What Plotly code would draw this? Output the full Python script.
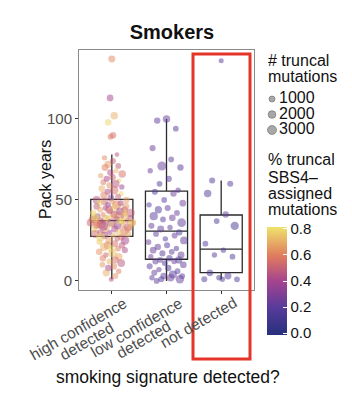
import math
import plotly.graph_objects as go

# ---------------- data ----------------
categories = ["high confidence<br>detected", "low confidence<br>detected", "not detected"]

high_pack = [137, 113, 102, 98, 90, 89, 78, 76, 74, 72,
             71, 70, 68, 67, 66, 65, 64, 63, 62, 61,
             60, 59, 58, 57, 56, 55, 54, 53, 52, 51,
             50, 50, 49, 49, 48, 48, 47, 47, 46, 46,
             45, 45, 44, 44, 43, 43, 42, 42, 41, 41,
             40, 40, 40, 39, 39, 38, 38, 38, 37, 37,
             37, 36, 36, 36, 35, 35, 35, 34, 34, 33,
             33, 32, 32, 31, 31, 30, 30, 30, 29, 29,
             28, 28, 27, 27, 26, 25, 25, 24, 23, 22,
             22, 21, 20, 20, 19, 18, 17, 16, 15, 14,
             13, 12, 11, 10, 9, 8, 6, 5, 3, 1,
             36, 38, 40, 34, 42, 35, 37, 44, 33, 39]
high_pct = [0.62, 0.40, 0.70, 0.78, 0.55, 0.58, 0.45, 0.62, 0.50, 0.66,
            0.48, 0.60, 0.72, 0.44, 0.55, 0.68, 0.52, 0.40, 0.75, 0.58,
            0.46, 0.63, 0.38, 0.70, 0.55, 0.42, 0.78, 0.60, 0.50, 0.35,
            0.66, 0.45, 0.72, 0.52, 0.40, 0.80, 0.58, 0.36, 0.64, 0.48,
            0.75, 0.42, 0.56, 0.68, 0.38, 0.62, 0.50, 0.77, 0.44, 0.60,
            0.70, 0.35, 0.54, 0.79, 0.46, 0.64, 0.40, 0.72, 0.58, 0.48,
            0.80, 0.38, 0.62, 0.52, 0.74, 0.44, 0.66, 0.56, 0.36, 0.70,
            0.50, 0.78, 0.42, 0.64, 0.58, 0.46, 0.74, 0.38, 0.68, 0.54,
            0.72, 0.44, 0.60, 0.78, 0.50, 0.66, 0.40, 0.76, 0.56, 0.62,
            0.48, 0.70, 0.58, 0.80, 0.42, 0.64, 0.74, 0.52, 0.68, 0.60,
            0.56, 0.72, 0.46, 0.66, 0.62, 0.40, 0.58, 0.70, 0.64, 0.45,
            0.76, 0.52, 0.68, 0.44, 0.72, 0.60, 0.80, 0.50, 0.66, 0.78]
high_n = [2200, 2000, 2600, 2000, 1800, 1500, 800, 1200, 1600, 2400,
          1400, 2200, 1000, 1800, 2600, 1200, 2000, 1600, 900, 1400,
          2800, 1600, 1200, 2000, 3400, 1800, 1000, 2400, 1500, 2200,
          1800, 3000, 1200, 2600, 1600, 2000, 4000, 1400, 2200, 1800,
          3600, 1200, 2000, 1600, 2800, 1400, 3200, 1800, 2400, 1000,
          2600, 1500, 4200, 2000, 1300, 2800, 1800, 3600, 1200, 2200,
          1600, 3000, 1400, 2400, 1800, 4400, 1200, 2000, 2600, 1500,
          3200, 1800, 2200, 1400, 3800, 1600, 2400, 1200, 2000, 3000,
          1400, 2600, 1800, 4000, 1200, 2200, 3400, 1600, 2000, 2800,
          1800, 3200, 1400, 2400, 1600, 2000, 3600, 1200, 2600, 1800,
          2200, 1600, 2800, 1400, 2000, 1800, 1200, 2400, 1600, 1000,
          3000, 2400, 1800, 4600, 2200, 3400, 2000, 2800, 1600, 3800]

low_pack = [100, 99, 94, 82, 75, 71, 70, 68, 63, 60,
            56, 55, 54, 50, 48, 47, 45, 44, 42, 40,
            39, 38, 36, 34, 33, 32, 30, 29, 28, 26,
            25, 24, 22, 21, 20, 19, 18, 17, 16, 15,
            14, 13, 13, 12, 12, 11, 10, 9, 8, 7,
            6, 5, 4, 3, 3, 2, 2, 1, 1, 0]
low_pct = [0.22, 0.20, 0.18, 0.24, 0.20, 0.22, 0.18, 0.25, 0.20, 0.16,
           0.22, 0.18, 0.24, 0.20, 0.26, 0.19, 0.22, 0.17, 0.23, 0.20,
           0.25, 0.18, 0.21, 0.24, 0.19, 0.22, 0.16, 0.20, 0.23, 0.18,
           0.21, 0.26, 0.19, 0.22, 0.17, 0.24, 0.20, 0.18, 0.22, 0.25,
           0.19, 0.23, 0.17, 0.21, 0.24, 0.18, 0.22, 0.20, 0.16, 0.23,
           0.20, 0.24, 0.18, 0.22, 0.19, 0.21, 0.25, 0.17, 0.23, 0.20]
low_n = [2600, 1800, 1400, 1600, 1400, 4000, 1800, 1200, 1600, 1400,
         1200, 1600, 1800, 1400, 2000, 1200, 1600, 2400, 1400, 3200,
         2000, 1400, 3600, 1600, 1200, 2200, 1800, 1400, 1600, 1200,
         2800, 1400, 1600, 1800, 1200, 2000, 1400, 1600, 2200, 1200,
         1800, 1400, 2400, 1600, 1200, 1400, 2000, 1600, 1800, 1200,
         1400, 1600, 3000, 1800, 1400, 1200, 2600, 1600, 3400, 1400]

nd_pack = [136, 62, 60, 54, 41, 37, 34, 23, 19, 16, 15, 5, 3, 2, 1, 1, 1]
nd_pct = [0.18, 0.16, 0.20, 0.17, 0.22, 0.15, 0.14, 0.18, 0.16, 0.20, 0.17,
          0.15, 0.19, 0.13, 0.17, 0.18, 0.16]
nd_n = [1000, 1600, 1600, 2600, 1800, 1400, 3400, 1400, 1200, 1200, 1400,
        2000, 2200, 1200, 1400, 1600, 1200]

box_q1 = [27.5, 13.4, 5.1]
box_median = [37.2, 30.7, 19.6]
box_q3 = [50.4, 55.5, 40.7]
box_lower = [1, 0, 1]
box_upper = [78, 100, 62]

legend_n = [1000, 2000, 3000]
legend_labels = ["1000", "2000", "3000"]

# ---------------- helpers ----------------
W, H = 352, 420
FONT = "Liberation Sans, Arial, Helvetica, sans-serif"
X0, X1, Y0, Y1 = 79, 254, 50, 290   # panel box in pixels
XR = [0.4, 3.6]
TICK_FS = 15.5

# Arial advance widths (per 1000 em) used to centre rotated label lines
CHAR_W = {"a": 556, "c": 500, "d": 556, "e": 556, "f": 278, "g": 556,
          "h": 556, "i": 222, "l": 222, "n": 556, "o": 556, "t": 278,
          "w": 722, " ": 278}


def text_len(s, fs):
    return sum(CHAR_W.get(ch, 556) for ch in s) / 1000 * fs


def px_x(p):
    return p / W


def px_y(p):
    return 1 - p / H


def dot_size(n):
    return 0.129 * math.sqrt(n) + 0.92


def vdc(i, base=2):
    v, denom = 0.0, 1.0
    while i:
        denom *= base
        i, r = divmod(i, base)
        v += r / denom
    return v


def jitter(vals, center, wmax, density=True):
    out = []
    if density:
        dens = [sum(1 for v in vals if abs(v - y) <= 6) for y in vals]
        md = max(dens)
    for i, y in enumerate(vals):
        w = wmax * math.sqrt(dens[i] / md) if density else wmax
        w = max(w, 0.06)
        out.append(center + w * (2 * vdc(i + 1) - 1))
    return out


colorscale = [[0.0, "#27307c"], [0.25, "#563b9b"], [0.5, "#a6448e"],
              [0.73, "#e07a5f"], [1.0, "#eee36b"]]

fig = go.Figure()

positions = [1, 2, 3]
fig.add_trace(go.Box(
    x=positions, q1=box_q1, median=box_median, q3=box_q3,
    lowerfence=box_lower, upperfence=box_upper,
    boxpoints=False, width=0.77, whiskerwidth=0,
    fillcolor="rgba(0,0,0,0)", line=dict(color="#2b2b2b", width=1.3),
    showlegend=False, hoverinfo="skip", xaxis="x", yaxis="y"))

groups = [(high_pack, high_pct, high_n, True, 0.40),
          (low_pack, low_pct, low_n, False, 0.34),
          (nd_pack, nd_pct, nd_n, False, 0.33)]
for k, (pk, pc, nn, dens, wmax) in enumerate(groups):
    fig.add_trace(go.Scatter(
        x=jitter(pk, positions[k], wmax, dens), y=pk, mode="markers",
        marker=dict(color=pc, coloraxis="coloraxis",
                    size=[dot_size(v) for v in nn], opacity=0.5,
                    line=dict(width=0)),
        showlegend=False, xaxis="x", yaxis="y", cliponaxis=False))

# size legend drawn on a helper axis in pixel units
leg_y = [99, 114.5, 130]
fig.add_trace(go.Scatter(
    x=[272] * len(legend_n), y=leg_y, mode="markers",
    marker=dict(size=[dot_size(v) + 1 for v in legend_n],
                color="rgba(90,90,90,0.75)",
                line=dict(color="rgba(50,50,50,0.8)", width=0.8)),
    showlegend=False, xaxis="x2", yaxis="y2", hoverinfo="skip",
    cliponaxis=False))
fig.add_trace(go.Scatter(
    x=[279] * len(legend_n), y=leg_y, mode="text",
    text=legend_labels, textposition="middle right",
    textfont=dict(size=16, color="#111", family=FONT),
    showlegend=False, xaxis="x2", yaxis="y2", hoverinfo="skip",
    cliponaxis=False))

fig.update_layout(
    width=W, height=H,
    margin=dict(l=0, r=0, t=0, b=0, pad=0, autoexpand=False),
    paper_bgcolor="white", plot_bgcolor="white",
    font=dict(family=FONT, color="#111"),
    showlegend=False,
    title=dict(text="<b>Smokers</b>", x=px_x(172), xanchor="center",
               xref="paper", y=px_y(32), yanchor="middle", yref="paper",
               font=dict(size=20, color="#111", family=FONT)),
    xaxis=dict(domain=[px_x(X0), px_x(X1)], range=XR,
               tickvals=positions, showticklabels=False,
               ticks="outside", ticklen=3, tickcolor="#333",
               showline=True, mirror=True, linecolor="#8a8a8a", linewidth=1,
               showgrid=False, zeroline=False, automargin=False),
    yaxis=dict(domain=[px_y(Y1), px_y(Y0)], range=[-5.6, 142.6],
               tickvals=[0, 50, 100], tickfont=dict(size=15, color="#4d4d4d"),
               ticks="outside", ticklen=3, tickcolor="#333",
               showline=True, mirror=True, linecolor="#8a8a8a", linewidth=1,
               showgrid=False, zeroline=False, automargin=False),
    xaxis2=dict(domain=[px_x(262), 1], range=[262, 352], visible=False,
                fixedrange=True, automargin=False),
    yaxis2=dict(domain=[0, 1], range=[420, 0], visible=False,
                fixedrange=True, anchor="x2", automargin=False),
    coloraxis=dict(colorscale=colorscale, cmin=-0.015, cmax=0.815,
                   colorbar=dict(xref="paper", yref="paper",
                                 x=px_x(267), xanchor="left",
                                 y=px_y(335), yanchor="bottom",
                                 lenmode="pixels", len=108,
                                 thicknessmode="pixels", thickness=20,
                                 outlinewidth=0, xpad=0, ypad=0,
                                 tickvals=[0, 0.2, 0.4, 0.6, 0.8],
                                 ticktext=["0.0", "0.2", "0.4", "0.6", "0.8"],
                                 ticks="inside", ticklen=4, tickcolor="white",
                                 tickfont=dict(size=15, color="#111"))),
    shapes=[dict(type="rect", xref="paper", yref="paper",
                 x0=px_x(193), x1=px_x(250), y0=px_y(359), y1=px_y(54),
                 line=dict(color="#e5352b", width=3),
                 fillcolor="rgba(0,0,0,0)")],
)

# rotated category labels, one annotation per line, placed from the
# category position on the x axis (30 degree rotation, centred lines)
unit_px = (X1 - X0) / (XR[1] - XR[0])
ang = math.radians(30)
u = (math.cos(ang), -math.sin(ang))     # along the text
nvec = (math.sin(ang), math.cos(ang))   # next line direction
LINE_STEP = 14.5
for pos, lab in zip(positions, categories):
    lines = lab.split("<br>")
    tick_px = X0 + (pos - XR[0]) * unit_px
    ex, ey = tick_px + 14, 301.5        # mid-height end of the first line
    half = text_len(lines[0], TICK_FS) / 2
    cx, cy = ex - half * u[0], ey - half * u[1]
    for i, line in enumerate(lines):
        lx = cx + i * LINE_STEP * nvec[0]
        ly = cy + i * LINE_STEP * nvec[1]
        fig.add_annotation(text=line, xref="paper", yref="paper",
                           x=px_x(lx), y=px_y(ly),
                           xanchor="center", yanchor="middle",
                           textangle=-30, showarrow=False, borderpad=0,
                           font=dict(size=TICK_FS, color="#4d4d4d",
                                     family=FONT))

# axis titles
fig.add_annotation(text="smoking signature detected?", xref="paper",
                   yref="paper", x=px_x(167.5), y=px_y(377),
                   xanchor="center", yanchor="middle", showarrow=False,
                   font=dict(size=17.5, color="#111", family=FONT))
fig.add_annotation(text="Pack years", xref="paper", yref="paper",
                   x=px_x(45), y=px_y(180), xanchor="center",
                   yanchor="middle", textangle=-90, showarrow=False,
                   font=dict(size=16, color="#111", family=FONT))

ann_lines = [("# truncal", 60), ("mutations", 76),
             ("% truncal", 159), ("SBS4\u2013", 177), ("assigned", 193),
             ("mutations", 209)]
for txt, yy in ann_lines:
    fig.add_annotation(text=txt, xref="paper", yref="paper",
                       x=px_x(266), y=px_y(yy), xanchor="left",
                       yanchor="middle", showarrow=False, height=16,
                       font=dict(size=16, color="#111", family=FONT))

fig.write_html("out.html")
